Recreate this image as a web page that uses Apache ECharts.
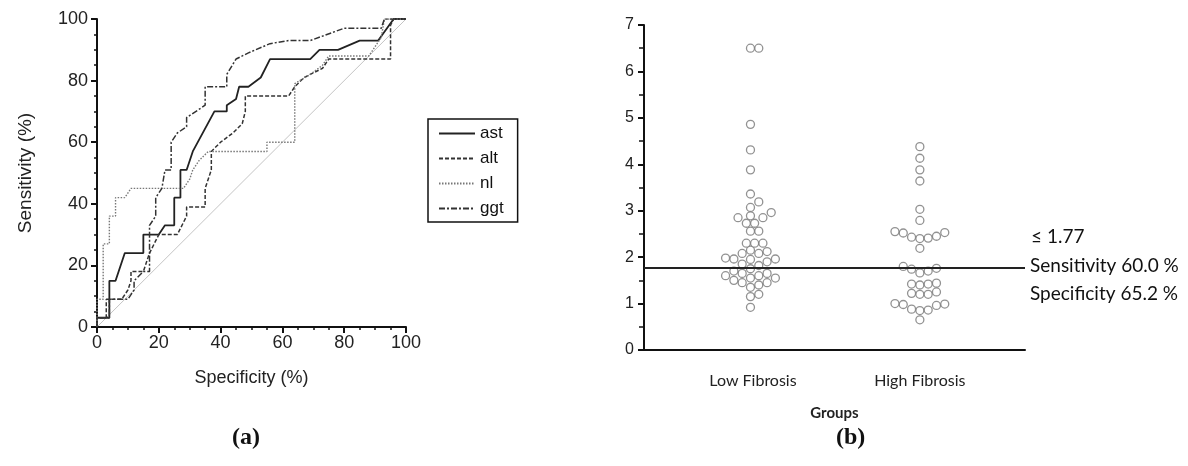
<!DOCTYPE html>
<html><head><meta charset="utf-8">
<script src="https://cdn.jsdelivr.net/npm/echarts@6/dist/echarts.min.js"></script>
<style>html,body{margin:0;padding:0;background:#fff}#c{width:1188px;height:466px}</style>
</head><body><div id="c"></div>
<script>
// ---------- DATA ----------
// ROC curves: [100-specificity %, sensitivity %]
const ast = [[0,0],[0,3],[4,3],[4,15],[6,15],[7,18],[9,24],[15,24],[15,30],[20,30],[22,33],[25,33],[25,42],[27,42],[27,51],[29,51],[31,57],[38,70],[42,70],[42,72],[45,74],[46,78],[49,78],[53,81],[56,87],[69,87],[72,90],[78,90],[85,93],[91,93],[96,100],[100,100]];
const alt = [[0,0],[0,3],[3,3],[3,9],[8,9],[10,12],[11,15],[11,18],[15,18],[17,24],[20,30],[26,30],[29,36],[29,39],[35,39],[35,45],[37,51],[37,57],[40,60],[44,63],[47,66],[48,70],[48,75],[62,75],[64,78],[67,81],[73,84],[75,87],[95,87],[95,98],[96,100],[100,100]];
const nl = [[0,0],[0,9],[2,9],[2,27],[4,27],[4,36],[6,36],[6,42],[9,42],[11,45],[28,45],[30,48],[31,51],[33,54],[36,57],[55,57],[55,60],[64,60],[64,79],[69,82],[73,85],[75,88],[88,88],[90,91],[92,94],[93,100],[100,100]];
const ggt = [[0,0],[0,3],[4,3],[4,9],[10,9],[12,12],[12,15],[15,18],[17,18],[17,33],[19,36],[19,42],[21,45],[22,51],[24,51],[24,60],[26,63],[29,65],[29,68],[35,72],[35,78],[42,78],[42,82],[45,87],[49,89],[56,92],[62,93],[69,93],[80,97],[92,97],[93,100],[100,100]];
const rocNames = ['ast','alt','nl','ggt'];

// Scatter (b)
const groups = ['Low Fibrosis','High Fibrosis'];
const lowFibrosis = [6.5,6.5,4.86,4.31,3.88,3.36,3.19,3.07,2.96,2.89,2.85,2.85,2.73,2.73,2.56,2.56,2.3,2.3,2.3,2.15,2.12,2.08,2.08,1.98,1.96,1.96,1.95,1.9,1.85,1.82,
  1.75,1.7,1.65,1.65,1.6,1.6,1.55,1.55,1.5,1.45,1.45,1.4,1.35,1.2,1.15,0.92];
const highFibrosis = [4.38,4.13,3.88,3.64,3.03,2.79,2.55,2.53,2.52,2.45,2.43,2.41,2.40,2.19,
  1.80,1.76,1.74,1.70,1.66,1.44,1.42,1.42,1.40,1.25,1.22,1.20,1.20,1.00,0.99,0.98,0.96,0.88,0.86,0.85,0.65];
const cutoff = 1.77;
const cutoffTexts = ['\u2264 1.77','Sensitivity 60.0 %','Specificity 65.2 %'];

// ---------- LAYOUT ----------
const G2 = {left:644, top:25, width:381, height:325};
const X2MIN = 0.347, X2MAX = 2.63, Y2MAX = 7;
const DOT = 8.3;

function swarm(values, center) {
  const pxX = G2.width / (X2MAX - X2MIN), pxY = G2.height / Y2MAX;
  const placed = [];
  const sorted = values.slice().sort((a,b)=>a-b);
  const out = [];
  const step = DOT/2;
  for (const v of sorted) {
    const yp = v * pxY;
    let chosen = 0;
    for (let k = 0; k < 60; k++) {
      const m = Math.ceil(k/2) * (k % 2 === 1 ? 1 : -1);
      const xo = m * step;
      let ok = true;
      for (const p of placed) {
        const dx = p[0]-xo, dy = p[1]-yp;
        if (dx*dx + dy*dy < (DOT*0.97)*(DOT*0.97)) { ok = false; break; }
      }
      if (ok) { chosen = xo; break; }
    }
    placed.push([chosen, yp]);
    out.push([center + chosen/pxX, v]);
  }
  return out;
}

const chart = echarts.init(document.getElementById('c'), null, {renderer:'canvas'});
const axisCol = '#111';
const lbl = {color:'#222', fontFamily:'Liberation Sans, Arial', fontSize:18};

const lineSeries = (name, data, type, color, width) => ({
  name, type:'line', data, xAxisIndex:0, yAxisIndex:0, symbol:'none', showSymbol:false,
  lineStyle:{color, width, type}, itemStyle:{color}, animation:false, z:3
});

chart.setOption({
  animation:false,
  grid:[
    {left:97, top:19, width:309, height:308},
    {left:G2.left, top:G2.top, width:G2.width, height:G2.height}
  ],
  xAxis:[
    {gridIndex:0, type:'value', min:0, max:100, interval:20,
     name:'Specificity (%)', nameLocation:'middle', nameGap:42,
     nameTextStyle:{color:'#222', fontFamily:'Liberation Sans, Arial', fontSize:18},
     axisLine:{show:true, lineStyle:{color:axisCol, width:2}},
     axisTick:{show:true, length:6, lineStyle:{color:axisCol, width:2}},
     minorTick:{show:true, splitNumber:4, length:3, lineStyle:{color:axisCol, width:1.5}},
     axisLabel:Object.assign({margin:7}, lbl), splitLine:{show:false}},
    {gridIndex:1, type:'value', min:X2MIN, max:X2MAX,
     name:'Groups', nameLocation:'middle', nameGap:56,
     nameTextStyle:{color:'#222', fontFamily:'Lato, Open Sans', fontSize:15, fontWeight:'bold'},
     axisLine:{show:true, onZero:false, lineStyle:{color:axisCol, width:2}},
     axisTick:{show:false},
     axisLabel:{customValues:[1,2], formatter:(v)=> v===1?groups[0]:(v===2?groups[1]:''),
       color:'#222', fontFamily:'Lato, Open Sans', fontSize:16, margin:23},
     splitLine:{show:false}}
  ],
  yAxis:[
    {gridIndex:0, type:'value', min:0, max:100, interval:20,
     name:'Sensitivity (%)', nameLocation:'middle', nameGap:62, nameRotate:90,
     nameTextStyle:{color:'#222', fontFamily:'Liberation Sans, Arial', fontSize:19},
     axisLine:{show:true, lineStyle:{color:axisCol, width:2}},
     axisTick:{show:true, length:6, lineStyle:{color:axisCol, width:2}},
     minorTick:{show:true, splitNumber:4, length:3, lineStyle:{color:axisCol, width:1.5}},
     axisLabel:Object.assign({margin:9}, lbl), splitLine:{show:false}},
    {gridIndex:1, type:'value', min:0, max:Y2MAX, interval:1,
     axisLine:{show:true, lineStyle:{color:axisCol, width:2}},
     axisTick:{show:true, length:6, lineStyle:{color:axisCol, width:2}},
     minorTick:{show:true, splitNumber:2, length:5, lineStyle:{color:axisCol, width:1.5}},
     axisLabel:{color:'#222', fontFamily:'Liberation Sans, Arial', fontSize:16, margin:10},
     splitLine:{show:false}}
  ],
  legend:{
    data:rocNames, orient:'vertical', left:428, top:119,
    itemWidth:36, itemHeight:14, itemGap:8,
    padding:[6,14,5,10], borderColor:'#111', borderWidth:1.5,
    itemStyle:{opacity:0},
    textStyle:{color:'#111', fontFamily:'Liberation Sans, Arial', fontSize:17}
  },
  series:[
    {type:'line', data:[[0,0],[100,100]], xAxisIndex:0, yAxisIndex:0, symbol:'none',
     lineStyle:{color:'#c4c4c4', width:1}, silent:true, z:1},
    lineSeries('ast', ast, 'solid', '#222', 1.8),
    lineSeries('alt', alt, [4,2], '#333', 1.5),
    lineSeries('nl', nl, [1.5,1.5], '#777', 1.4),
    lineSeries('ggt', ggt, [6,2,2,2], '#333', 1.5),
    {type:'scatter', xAxisIndex:1, yAxisIndex:1, data:swarm(lowFibrosis,0.985),
     symbol:'circle', symbolSize:8, itemStyle:{color:'#fff', borderColor:'#777', borderWidth:1.3}, z:4,
     markLine:{silent:true, symbol:'none', label:{show:false},
       lineStyle:{color:'#222', width:2, type:'solid'}, data:[{yAxis:cutoff}]}},
    {type:'scatter', xAxisIndex:1, yAxisIndex:1, data:swarm(highFibrosis,2),
     symbol:'circle', symbolSize:8, itemStyle:{color:'#fff', borderColor:'#777', borderWidth:1.3}, z:4}
  ],
  graphic:[
    {type:'text', left:1031, top:227, style:{text:cutoffTexts[0], fill:'#111', font:'19px Lato, "Open Sans", sans-serif'}},
    {type:'text', left:1030, top:256, style:{text:cutoffTexts[1], fill:'#111', font:'19px Lato, "Open Sans", sans-serif'}},
    {type:'text', left:1030, top:284, style:{text:cutoffTexts[2], fill:'#111', font:'19px Lato, "Open Sans", sans-serif'}},
    {type:'text', left:232, top:426, style:{text:'(a)', fill:'#111', font:'bold 24px "Liberation Serif", serif'}},
    {type:'text', left:836, top:426, style:{text:'(b)', fill:'#111', font:'bold 24px "Liberation Serif", serif'}}
  ]
});
</script></body></html>
